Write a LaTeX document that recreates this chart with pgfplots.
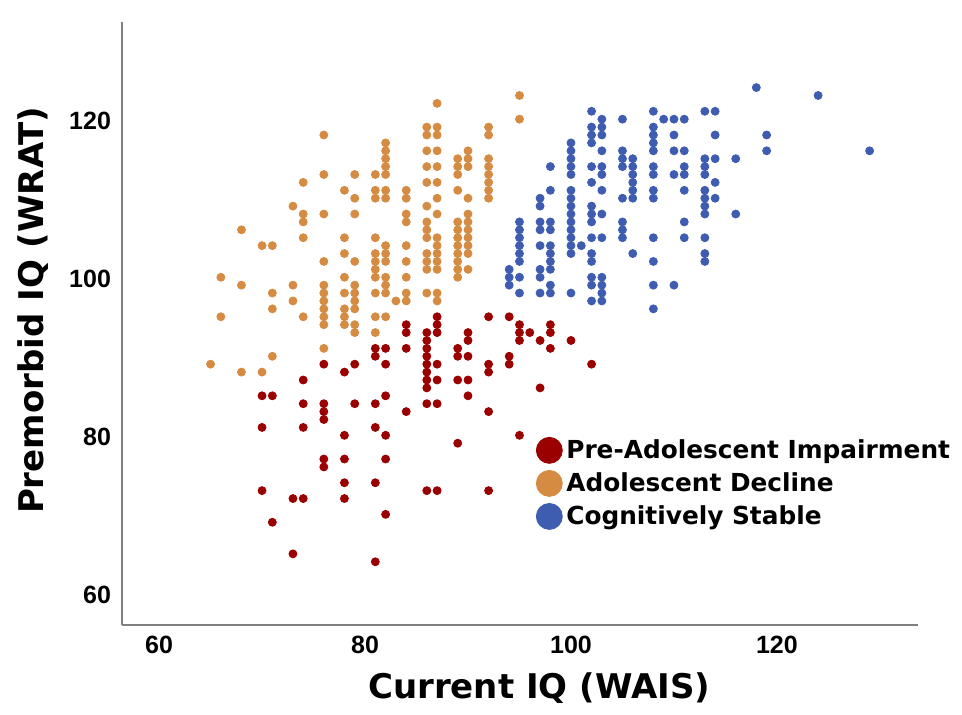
\documentclass[border=0pt]{standalone}
\usepackage{fontspec}
\usepackage{pgfplots}
\pgfplotsset{compat=1.18}
\setmainfont{Liberation Sans}
\newfontfamily\labelfont{DejaVu Sans}

\definecolor{cred}{RGB}{155,0,0}
\definecolor{corange}{RGB}{213,139,66}
\definecolor{cblue}{RGB}{62,92,176}

\begin{document}
\begin{tikzpicture}
\begin{axis}[
    name=ax,
    scale only axis,
    width=398pt, height=301.5pt,
    xmin=56.4, xmax=133.7,
    ymin=56, ymax=132.3,
    xtick={60,80,100,120},
    ytick={60,80,100,120},
    axis x line=bottom, axis y line=left,
    axis line style={-, draw=gray, line width=0.7pt},
    major tick length=0pt,
    /pgf/number format/assume math mode=true,
    ticklabel style={font=\fontsize{12.5}{12.5}\selectfont\bfseries},
    xticklabel style={yshift=-2pt},
    yticklabel style={xshift=-2pt, yshift=-1pt},
    xlabel={Current IQ (WAIS)},
    ylabel={Premorbid IQ (WRAT)},
    label style={font=\labelfont\bfseries\fontsize{17}{17}\selectfont},
    xlabel style={at={(axis description cs:0.524,-0.1045)}, anchor=center},
    ylabel style={at={(axis description cs:-0.112,0.522)}, anchor=center},
    legend style={at={(rel axis cs:0.52,0.315)}, anchor=north west,
        draw=none, fill=none, font=\labelfont\bfseries\fontsize{12.4}{12.4}\selectfont,
        row sep=1.6pt, inner sep=0pt},
    legend cell align=left,
    legend image post style={mark size=6.5pt},
    legend image code/.code={\draw[#1] plot coordinates {(0.3em,0)};},
    every axis plot/.append style={only marks, mark=*, mark size=2pt},
]
\addplot[mark options={draw=cred, fill=cred}] coordinates {
(70,85)(70,81)(70,73)
(71,85)(71,69)
(73,72)(73,65)
(74,87)(74,84)(74,81)(74,72)
(76,89)(76,84)(76,83)(76,82)(76,77)(76,76)
(78,88)(78,80)(78,77)(78,74)(78,72)
(79,89)(79,84)
(81,91)(81,90)(81,84)(81,81)(81,74)(81,64)
(82,91)(82,89)(82,85)(82,80)(82,77)(82,70)
(84,94)(84,93)(84,91)(84,83)
(86,93)(86,92)(86,91)(86,90)(86,89)(86,88)(86,87)(86,86)(86,84)(86,73)
(87,95)(87,94)(87,93)(87,89)(87,87)(87,84)(87,73)
(89,91)(89,90)(89,87)(89,79)
(90,93)(90,92)(90,90)(90,87)(90,85)
(92,95)(92,89)(92,88)(92,83)(92,73)
(94,95)(94,90)(94,89)
(95,94)(95,93)(95,92)(95,80)
(96,93)
(97,92)(97,86)
(98,94)(98,93)(98,91)
(100,92)
(102,89)
};
\addlegendentry{Pre-Adolescent Impairment}

\addplot[mark options={draw=corange, fill=corange}] coordinates {
(65,89)
(66,100)(66,95)
(68,106)(68,99)(68,88)
(70,104)(70,88)
(71,104)(71,98)(71,96)(71,90)
(73,109)(73,99)(73,97)
(74,112)(74,108)(74,107)(74,105)(74,95)
(76,118)(76,113)(76,108)(76,102)(76,99)(76,98)(76,97)(76,96)(76,95)(76,94)(76,91)
(78,111)(78,105)(78,103)(78,100)(78,98)(78,96)(78,95)(78,94)
(79,113)(79,110)(79,108)(79,102)(79,99)(79,98)(79,97)(79,96)(79,94)(79,93)
(81,113)(81,111)(81,110)(81,105)(81,103)(81,102)(81,101)(81,100)(81,98)(81,95)(81,93)
(82,117)(82,116)(82,115)(82,114)(82,113)(82,111)(82,110)(82,104)(82,103)(82,102)(82,100)(82,99)(82,98)(82,95)
(83,97)
(84,111)(84,110)(84,108)(84,107)(84,104)(84,102)(84,100)(84,98)(84,97)
(86,119)(86,118)(86,116)(86,114)(86,112)(86,109)(86,107)(86,106)(86,105)(86,103)(86,102)(86,101)(86,98)
(87,122)(87,119)(87,118)(87,116)(87,114)(87,112)(87,110)(87,108)(87,105)(87,104)(87,103)(87,102)(87,101)(87,98)(87,97)
(89,115)(89,114)(89,113)(89,111)(89,107)(89,106)(89,105)(89,104)(89,103)(89,102)(89,101)(89,100)
(90,116)(90,115)(90,114)(90,110)(90,108)(90,107)(90,106)(90,105)(90,104)(90,103)(90,101)
(92,119)(92,118)(92,115)(92,114)(92,113)(92,112)(92,111)(92,110)
(95,123)(95,120)
};
\addlegendentry{Adolescent Decline}

\addplot[mark options={draw=cblue, fill=cblue}] coordinates {
(94,101)(94,100)(94,99)
(95,107)(95,106)(95,105)(95,104)(95,103)(95,102)(95,100)(95,98)
(97,110)(97,109)(97,107)(97,106)(97,104)(97,101)(97,100)(97,98)
(98,114)(98,111)(98,107)(98,106)(98,104)(98,103)(98,102)(98,101)(98,99)(98,98)
(100,117)(100,116)(100,115)(100,114)(100,113)(100,111)(100,110)(100,109)(100,108)(100,107)(100,106)(100,105)(100,104)(100,103)(100,98)
(101,104)
(102,121)(102,119)(102,118)(102,117)(102,114)(102,112)(102,109)(102,108)(102,107)(102,105)(102,103)(102,102)(102,100)(102,99)(102,97)
(103,120)(103,119)(103,118)(103,116)(103,114)(103,113)(103,111)(103,108)(103,105)(103,100)(103,99)(103,98)(103,97)
(105,120)(105,116)(105,115)(105,114)(105,110)(105,107)(105,106)(105,105)
(106,115)(106,114)(106,113)(106,112)(106,111)(106,110)(106,103)
(108,121)(108,119)(108,118)(108,117)(108,116)(108,114)(108,113)(108,111)(108,110)(108,105)(108,102)(108,99)(108,96)
(109,120)
(110,120)(110,118)(110,116)(110,113)(110,99)
(111,120)(111,116)(111,114)(111,113)(111,111)(111,107)(111,105)
(113,121)(113,115)(113,114)(113,113)(113,111)(113,110)(113,109)(113,108)(113,105)(113,103)(113,102)
(114,121)(114,118)(114,115)(114,112)(114,110)
(116,115)(116,108)
(118,124)
(119,118)(119,116)
(124,123)
(129,116)
};
\addlegendentry{Cognitively Stable}
\end{axis}
\pgfresetboundingbox
\useasboundingbox (ax.south west) ++(-61pt,-45pt) rectangle ++(481pt,357.5pt);
\end{tikzpicture}
\end{document}
